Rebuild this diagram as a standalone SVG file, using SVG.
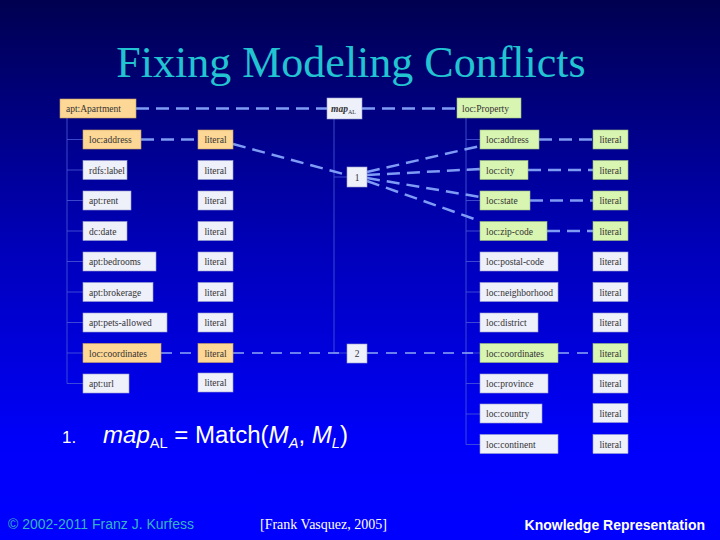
<svg xmlns="http://www.w3.org/2000/svg" width="720" height="540" viewBox="0 0 720 540">
<defs>
<linearGradient id="bg" x1="0" y1="0" x2="0" y2="1">
<stop offset="0" stop-color="#000050"/>
<stop offset="0.45" stop-color="#0000b8"/>
<stop offset="0.82" stop-color="#0000fa"/>
<stop offset="1" stop-color="#0000ff"/>
</linearGradient>
<style>
.w rect{fill:#eef0fa;stroke:#9aa0d0;stroke-width:0.6}
.o rect{fill:#fdd795;stroke:#c8a060;stroke-width:0.6}
.g rect{fill:#d9f5b2;stroke:#98b878;stroke-width:0.6}
.n text{font-family:"Liberation Serif",serif;font-size:9.5px;fill:#333}
.lit text{text-anchor:middle}
.tree{stroke:#4a5ad8;stroke-width:0.8;fill:none}
.dash{stroke:#7f9cf5;stroke-width:2.5;stroke-dasharray:13 7;fill:none}
.dash2{stroke:#8fa8f5;stroke-width:1.6;stroke-dasharray:11 8;fill:none}
</style>
</defs>
<rect width="720" height="540" fill="url(#bg)"/>
<text x="351" y="77" text-anchor="middle" font-family="Liberation Serif,serif" font-size="44" fill="#22c4d2">Fixing Modeling Conflicts</text>

<g id="tree-lines" class="tree">
<path d="M67 118V383.5M67 139.5H83M67 170H83M67 200.5H83M67 231H83M67 261.5H83M67 292H83M67 322.5H83M67 353H83M67 383.5H83"/>
<path d="M466 118V444.5M466 139.5H480M466 170H480M466 200.5H480M466 231H480M466 261.5H480M466 292H480M466 322.5H480M466 353H480M466 383.5H480M466 414H480M466 444.5H480"/>
<path d="M334 119V353H347M334 177H347"/>
</g>

<g id="connectors">
<path class="dash" d="M136 108.5H327M362 108.5H457"/>
<path class="dash" d="M141 139.5H198M233 144L347 175"/>
<path class="dash" d="M367 172L480 146M367 175L480 169M367 178L480 197M367 181L480 221"/>
<path class="dash" d="M539 139.5H593M528 170H593M530 200.5H593M547 231H593"/>
<path class="dash2" d="M161 353H198M233 353H347M367 353H480M558 353H593"/>
</g>

<g id="apt-Apartment" class="n o"><rect x="60" y="99" width="76" height="19"/><text x="66" y="112">apt:Apartment</text></g>
<g id="map-AL" class="n w"><rect x="327" y="98" width="35" height="21"/><text x="331" y="112"><tspan font-style="italic" font-weight="bold">map</tspan><tspan font-size="6" dy="1.5">AL</tspan></text></g>
<g id="loc-Property" class="n g"><rect x="457" y="98" width="64" height="20"/><text x="462" y="112">loc:Property</text></g>
<g id="box-1" class="n w"><rect x="347" y="167" width="20" height="20"/><text x="357" y="181" text-anchor="middle">1</text></g>
<g id="box-2" class="n w"><rect x="347" y="344" width="20" height="19"/><text x="357" y="357" text-anchor="middle">2</text></g>

<g id="a-address" class="n o"><rect x="83" y="130" width="58" height="19"/><text x="89" y="143">loc:address</text></g>
<g id="a-address-lit" class="n o lit"><rect x="198" y="130" width="35" height="19"/><text x="215.5" y="143">literal</text></g>
<g id="a-label" class="n w"><rect x="83" y="160.5" width="44" height="19"/><text x="89" y="173.5">rdfs:label</text></g>
<g id="a-label-lit" class="n w lit"><rect x="198" y="160.5" width="35" height="19"/><text x="215.5" y="173.5">literal</text></g>
<g id="a-rent" class="n w"><rect x="83" y="191" width="48" height="19"/><text x="89" y="204">apt:rent</text></g>
<g id="a-rent-lit" class="n w lit"><rect x="198" y="191" width="35" height="19"/><text x="215.5" y="204">literal</text></g>
<g id="a-date" class="n w"><rect x="83" y="221.5" width="44" height="19"/><text x="89" y="234.5">dc:date</text></g>
<g id="a-date-lit" class="n w lit"><rect x="198" y="221.5" width="35" height="19"/><text x="215.5" y="234.5">literal</text></g>
<g id="a-bedrooms" class="n w"><rect x="83" y="252" width="73" height="19"/><text x="89" y="265">apt:bedrooms</text></g>
<g id="a-bedrooms-lit" class="n w lit"><rect x="198" y="252" width="35" height="19"/><text x="215.5" y="265">literal</text></g>
<g id="a-brokerage" class="n w"><rect x="83" y="282.5" width="70" height="19"/><text x="89" y="295.5">apt:brokerage</text></g>
<g id="a-brokerage-lit" class="n w lit"><rect x="198" y="282.5" width="35" height="19"/><text x="215.5" y="295.5">literal</text></g>
<g id="a-pets" class="n w"><rect x="83" y="313" width="84" height="19"/><text x="89" y="326">apt:pets-allowed</text></g>
<g id="a-pets-lit" class="n w lit"><rect x="198" y="313" width="35" height="19"/><text x="215.5" y="326">literal</text></g>
<g id="a-coordinates" class="n o"><rect x="83" y="343.5" width="78" height="19"/><text x="89" y="356.5">loc:coordinates</text></g>
<g id="a-coordinates-lit" class="n o lit"><rect x="198" y="343.5" width="35" height="19"/><text x="215.5" y="356.5">literal</text></g>
<g id="a-url" class="n w"><rect x="83" y="374" width="46" height="19"/><text x="89" y="387">apt:url</text></g>
<g id="a-url-lit" class="n w lit"><rect x="198" y="373" width="35" height="19"/><text x="215.5" y="386">literal</text></g>

<g id="l-address" class="n g"><rect x="480" y="130" width="59" height="19"/><text x="486" y="143">loc:address</text></g>
<g id="l-address-lit" class="n g lit"><rect x="593" y="130" width="35" height="19"/><text x="610.5" y="143">literal</text></g>
<g id="l-city" class="n g"><rect x="480" y="160.5" width="48" height="19"/><text x="486" y="173.5">loc:city</text></g>
<g id="l-city-lit" class="n g lit"><rect x="593" y="160.5" width="35" height="19"/><text x="610.5" y="173.5">literal</text></g>
<g id="l-state" class="n g"><rect x="480" y="191" width="50" height="19"/><text x="486" y="204">loc:state</text></g>
<g id="l-state-lit" class="n g lit"><rect x="593" y="191" width="35" height="19"/><text x="610.5" y="204">literal</text></g>
<g id="l-zip" class="n g"><rect x="480" y="221.5" width="67" height="19"/><text x="486" y="234.5">loc:zip-code</text></g>
<g id="l-zip-lit" class="n g lit"><rect x="593" y="221.5" width="35" height="19"/><text x="610.5" y="234.5">literal</text></g>
<g id="l-postal" class="n w"><rect x="480" y="252" width="78" height="19"/><text x="486" y="265">loc:postal-code</text></g>
<g id="l-postal-lit" class="n w lit"><rect x="593" y="252" width="35" height="19"/><text x="610.5" y="265">literal</text></g>
<g id="l-neighborhood" class="n w"><rect x="480" y="282.5" width="78" height="19"/><text x="486" y="295.5">loc:neighborhood</text></g>
<g id="l-neighborhood-lit" class="n w lit"><rect x="593" y="282.5" width="35" height="19"/><text x="610.5" y="295.5">literal</text></g>
<g id="l-district" class="n w"><rect x="480" y="313" width="58" height="19"/><text x="486" y="326">loc:district</text></g>
<g id="l-district-lit" class="n w lit"><rect x="593" y="313" width="35" height="19"/><text x="610.5" y="326">literal</text></g>
<g id="l-coordinates" class="n g"><rect x="480" y="343.5" width="78" height="19"/><text x="486" y="356.5">loc:coordinates</text></g>
<g id="l-coordinates-lit" class="n g lit"><rect x="593" y="343.5" width="35" height="19"/><text x="610.5" y="356.5">literal</text></g>
<g id="l-province" class="n w"><rect x="480" y="374" width="68" height="19"/><text x="486" y="387">loc:province</text></g>
<g id="l-province-lit" class="n w lit"><rect x="593" y="374" width="35" height="19"/><text x="610.5" y="387">literal</text></g>
<g id="l-country" class="n w"><rect x="480" y="404" width="62" height="19"/><text x="486" y="417">loc:country</text></g>
<g id="l-country-lit" class="n w lit"><rect x="593" y="403.5" width="35" height="19"/><text x="610.5" y="416.5">literal</text></g>
<g id="l-continent" class="n w"><rect x="480" y="434.5" width="78" height="19"/><text x="486" y="447.5">loc:continent</text></g>
<g id="l-continent-lit" class="n w lit"><rect x="593" y="434.5" width="35" height="19"/><text x="610.5" y="447.5">literal</text></g>

<g font-family="Liberation Sans,Arial,sans-serif" fill="#ffffff">
<text x="62" y="443" font-size="17">1.</text>
<text x="103" y="443" font-size="23" textLength="245" lengthAdjust="spacingAndGlyphs"><tspan font-style="italic">map</tspan><tspan font-size="14" dy="5">AL</tspan><tspan dy="-5"> = Match(</tspan><tspan font-style="italic">M</tspan><tspan font-size="14" dy="5" font-style="italic">A</tspan><tspan dy="-5">, </tspan><tspan font-style="italic">M</tspan><tspan font-size="14" dy="5" font-style="italic">L</tspan><tspan dy="-5">)</tspan></text>
</g>
<text x="8" y="529" font-family="Liberation Sans,Arial,sans-serif" font-size="14" fill="#36b4c4">© 2002-2011 Franz J. Kurfess</text>
<text x="260" y="529" font-family="Liberation Serif,serif" font-size="14" fill="#ffffff">[Frank Vasquez, 2005]</text>
<text x="705" y="530" text-anchor="end" font-family="Liberation Sans,Arial,sans-serif" font-size="14" font-weight="bold" fill="#ffffff">Knowledge Representation</text>
</svg>
